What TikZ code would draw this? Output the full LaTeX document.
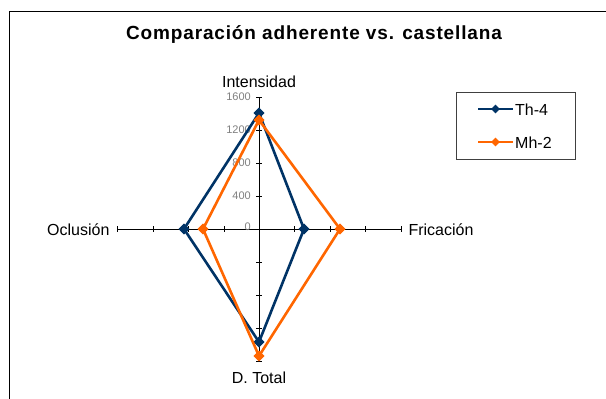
\documentclass[tikz,border=0pt]{standalone}
\usepackage{fontspec}
\setmainfont{Liberation Sans}
\newfontfamily\titlefont[LetterSpace=4.5]{Liberation Sans}
\usetikzlibrary{shapes.geometric}

\definecolor{thblue}{RGB}{0,51,102}
\definecolor{mhorange}{RGB}{255,102,0}

\tikzset{
  thline/.style={thblue,line width=2.6pt,line join=miter},
  mhline/.style={mhorange,line width=2.6pt,line join=miter},
  thmark/.style={diamond,fill=thblue,inner sep=0pt,minimum size=11pt},
  mhmark/.style={diamond,fill=mhorange,inner sep=0pt,minimum size=11pt},
  axislabel/.style={font=\fontsize{16}{18}\selectfont},
  ticklabel/.style={font=\fontsize{11}{12}\selectfont,text=gray,anchor=east,inner sep=0pt},
}

\begin{document}
\begin{tikzpicture}[x=1pt,y=-1pt]
\useasboundingbox (0,0) rectangle (606,399);
% chart frame
\draw[line width=0.9pt] (606,11) -- (9.5,11) -- (9.5,399);
\node[font=\titlefont\bfseries\fontsize{19}{21}\selectfont] (title) at (314,35) {Comparación adherente vs. castellana};

% axes
\coordinate (c) at (259,229);
\coordinate (top) at (259,97);
\coordinate (bot) at (259,361);
\coordinate (lft) at (117,229);
\coordinate (rgt) at (401,229);
\draw[line width=0.6pt] (top) -- (bot);
\draw[line width=0.6pt] (lft) -- (rgt);
\draw(259,97) node[ticklabel] at (251,97) {1600};
\draw(259,130) node[ticklabel] at (251,130) {1200};
\draw(259,163) node[ticklabel] at (251,163) {800};
\draw(259,196) node[ticklabel] at (251,196) {400};
\draw(259,229) node[ticklabel] at (251,227) {0};
\draw[line width=0.6pt] (256,97) -- (262,97);
\draw[line width=0.6pt] (256,130) -- (262,130);
\draw[line width=0.6pt] (256,163) -- (262,163);
\draw[line width=0.6pt] (256,196) -- (262,196);
\draw[line width=0.6pt] (256,262) -- (262,262);
\draw[line width=0.6pt] (256,295) -- (262,295);
\draw[line width=0.6pt] (256,328) -- (262,328);
\draw[line width=0.6pt] (256,361) -- (262,361);
\draw[line width=0.6pt] (117,226) -- (117,232);
\draw[line width=0.6pt] (153,226) -- (153,232);
\draw[line width=0.6pt] (188,226) -- (188,232);
\draw[line width=0.6pt] (224,226) -- (224,232);
\draw[line width=0.6pt] (294,226) -- (294,232);
\draw[line width=0.6pt] (330,226) -- (330,232);
\draw[line width=0.6pt] (365,226) -- (365,232);
\draw[line width=0.6pt] (401,226) -- (401,232);

\node[axislabel] (intensidad) at (259,82) {Intensidad};
\node[axislabel,anchor=east] (oclusion) at (113,230) {Oclusión};
\node[axislabel,anchor=west] (fricacion) at (405,230) {Fricación};
\node[axislabel] (dtotal) at (259,378) {D. Total};

% Th-4
\node[thmark] (th1) at (259,113) {};
\node[thmark] (th2) at (304,229) {};
\node[thmark] (th3) at (259,342) {};
\node[thmark] (th4) at (184,229) {};
\draw[thline] (th1.center) -- (th2.center) -- (th3.center) -- (th4.center) -- cycle;
\node[thmark] at (th1) {};
\node[thmark] at (th2) {};
\node[thmark] at (th3) {};
\node[thmark] at (th4) {};

% Mh-2
\node[mhmark] (mh1) at (259,120) {};
\node[mhmark] (mh2) at (340,229) {};
\node[mhmark] (mh3) at (259,356) {};
\node[mhmark] (mh4) at (203,229) {};
\draw[mhline] (mh1.center) -- (mh2.center) -- (mh3.center) -- (mh4.center) -- cycle;
\node[mhmark] at (mh1) {};
\node[mhmark] at (mh2) {};
\node[mhmark] at (mh3) {};
\node[mhmark] at (mh4) {};

% legend
\draw[line width=0.6pt,draw=black!75] (456,92) rectangle (575,159);
\coordinate (lg1a) at (478,109);
\coordinate (lg1b) at (513,109);
\coordinate (lg2a) at (478,142);
\coordinate (lg2b) at (513,142);
\draw[thline] (lg1a) -- (lg1b);
\node[thmark,minimum size=9pt] (lgth) at (495.5,109) {};
\draw[mhline] (lg2a) -- (lg2b);
\node[mhmark,minimum size=9pt] (lgmh) at (495.5,142) {};
\node[axislabel,anchor=west,inner sep=1pt] (thtext) at (514,110) {Th-4};
\node[axislabel,anchor=west,inner sep=1pt] (mhtext) at (514,143) {Mh-2};
\end{tikzpicture}
\end{document}
